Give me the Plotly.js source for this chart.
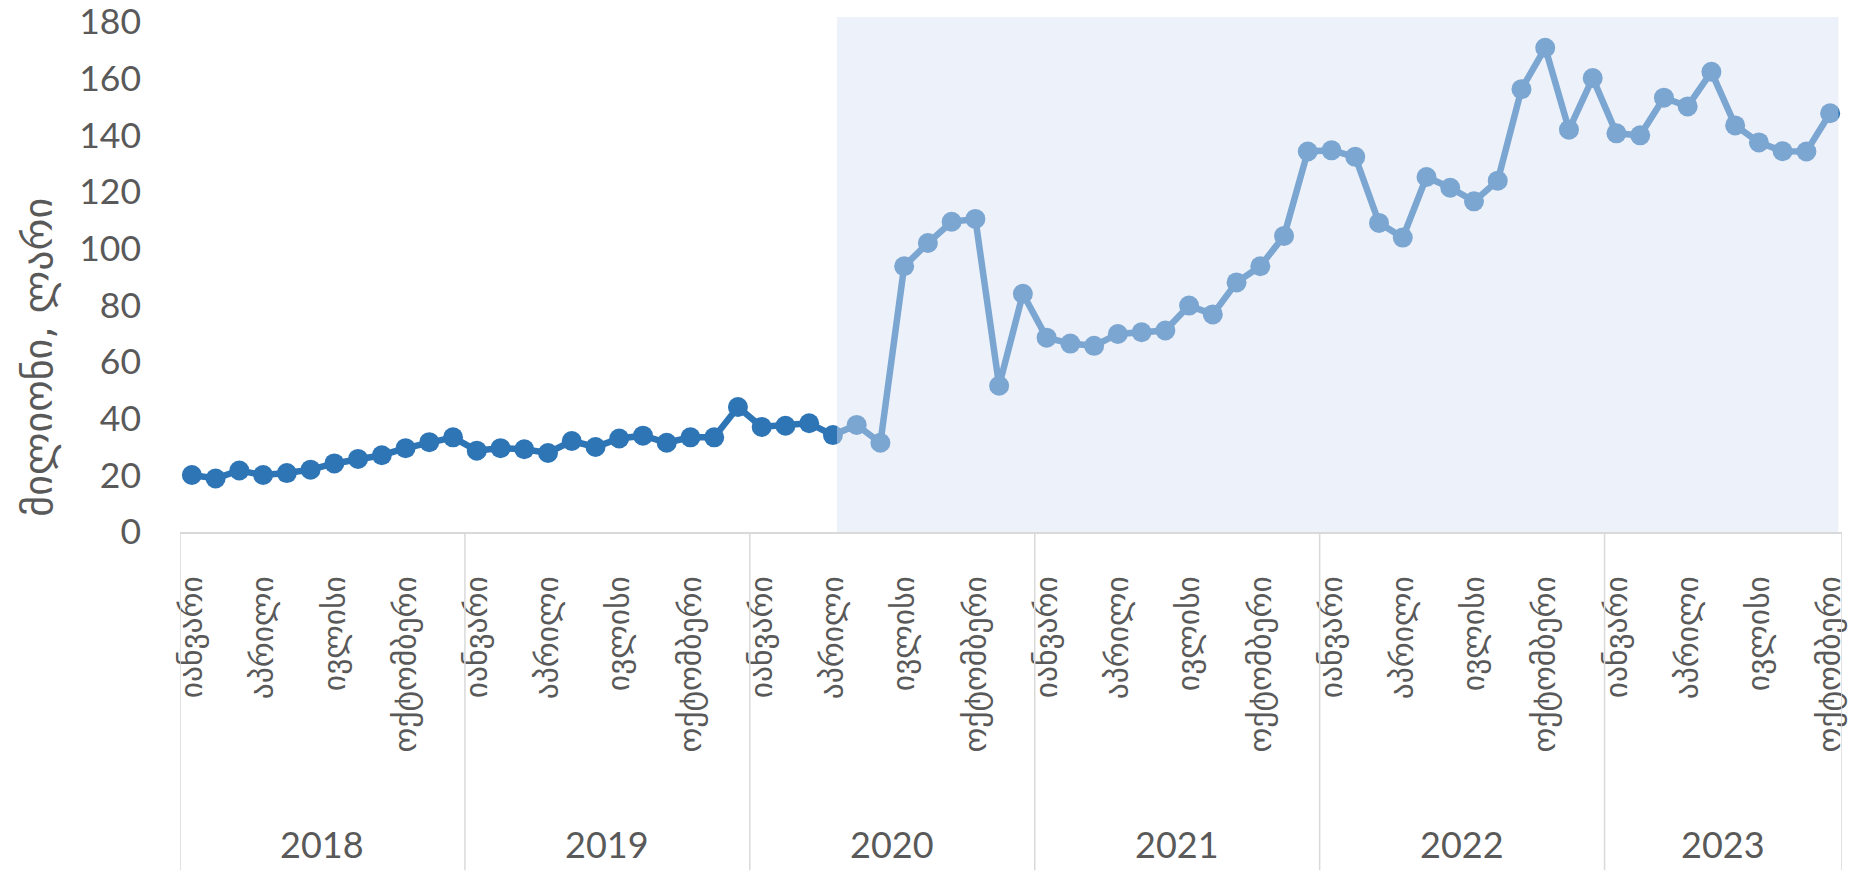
<!DOCTYPE html>
<html>
<head>
<meta charset="utf-8">
<script src="https://cdn.plot.ly/plotly-3.0.1.min.js"></script>
<style>html,body{margin:0;padding:0;background:#fff;}#chart{width:1858px;height:871px;}</style>
</head>
<body>
<div id="chart"></div>
<script>
// ---- data ----
const years = ["2018", "2019", "2020", "2021", "2022", "2023"];
const monthNames = ["იანვარი", "თებერვალი", "მარტი", "აპრილი", "მაისი", "ივნისი",
                    "ივლისი", "აგვისტო", "სექტემბერი", "ოქტომბერი", "ნოემბერი", "დეკემბერი"];
const v2018 = [20.1, 18.9, 21.7, 20.1, 20.8, 22.0, 24.2, 25.8, 27.1, 29.6, 31.7, 33.4];
const v2019 = [28.7, 29.6, 29.2, 27.9, 32.1, 30.0, 33.0, 34.0, 31.5, 33.4, 33.4, 44.1];
const v2020 = [37.1, 37.5, 38.4, 34.2, 37.8, 31.5, 93.8, 102.0, 109.5, 110.5, 51.6, 84.1];
const v2021 = [68.6, 66.5, 65.7, 69.9, 70.5, 71.1, 79.9, 76.8, 88.1, 93.8, 104.5, 134.3];
const v2022 = [134.7, 132.4, 109.1, 103.9, 125.3, 121.5, 116.7, 124.0, 156.3, 170.9, 142.0, 160.2];
const v2023 = [140.7, 140.0, 153.3, 150.2, 162.4, 143.5, 137.5, 134.4, 134.3, 147.8];
const yTickVals = [0, 20, 40, 60, 80, 100, 120, 140, 160, 180];
const yTitle = "მილიონი, ლარი";
const highlightStart = {year: "2020", month: "აპრილი"};

// ---- build ----
const series = [v2018, v2019, v2020, v2021, v2022, v2023];
const xs = [], ys = [], tickvals = [], ticktext = [];
const yearStart = [], yearLen = [];
let idx = 0;
series.forEach((arr, yi) => {
  yearStart.push(idx); yearLen.push(arr.length);
  arr.forEach((v, mi) => {
    xs.push(idx); ys.push(v);
    if (mi % 3 === 0) { tickvals.push(idx); ticktext.push(monthNames[mi]); }
    idx++;
  });
});
const nPts = idx;
const hiIdx = yearStart[years.indexOf(highlightStart.year)] + monthNames.indexOf(highlightStart.month);

const txtColor = "#595959";
const fontFam = "Lato, 'DejaVu Sans', sans-serif";
const geoFam = "'DejaVu Sans', sans-serif";
const gridC = "#D9D9D9";

const shapes = [];
// highlight overlay (semi-transparent, on top of the line)
shapes.push({type: "rect", xref: "x", yref: "paper", x0: hiIdx + 0.17, x1: nPts - 0.65,
  y0: 0, y1: 1.01, fillcolor: "rgba(215,224,242,0.46)", line: {width: 0}, layer: "above"});
// year separators
const bottomY = -339 / 511;
for (let i = 0; i <= years.length; i++) {
  const xb = (i < years.length ? yearStart[i] : nPts) - 0.5;
  shapes.push({type: "line", xref: "x", yref: "paper", x0: xb, x1: xb, y0: 0, y1: bottomY,
    line: {color: gridC, width: 1.5}});
}

const annotations = years.map((y, i) => ({
  xref: "x", yref: "paper", x: yearStart[i] + (yearLen[i] - 1) / 2, y: -0.611,
  text: y, showarrow: false, yanchor: "middle", xanchor: "center",
  font: {family: fontFam, size: 36, color: txtColor}
}));
annotations.push({xref: "paper", yref: "paper", x: -0.0854, y: 0.342, text: yTitle,
  textangle: -90, showarrow: false, xanchor: "center", yanchor: "middle",
  font: {family: geoFam, size: 40, color: txtColor}});

const trace = {
  x: xs, y: ys, type: "scatter", mode: "lines+markers",
  line: {color: "#2E75B6", width: 6.5},
  marker: {color: "#2E75B6", size: 20},
  hoverinfo: "y", cliponaxis: false
};

const layout = {
  width: 1858, height: 871,
  margin: {l: 180, r: 16, t: 22, b: 339},
  paper_bgcolor: "#fff", plot_bgcolor: "#fff",
  showlegend: false,
  xaxis: {
    range: [-0.5, nPts - 0.5], tickvals: tickvals, ticktext: ticktext, tickangle: -90,
    showgrid: false, zeroline: false, showline: true, linecolor: gridC, linewidth: 1.5,
    ticks: "", ticklabelstandoff: 30,
    tickfont: {family: geoFam, size: 31.5, color: txtColor}
  },
  yaxis: {
    range: [0, 180], tickvals: yTickVals, ticklabeloverflow: "allow",
    showgrid: false, zeroline: false, showline: false, ticks: "", ticklabelstandoff: 38,
    tickfont: {family: fontFam, size: 35.5, color: txtColor}
  },
  shapes: shapes, annotations: annotations
};

Plotly.newPlot("chart", [trace], layout, {displayModeBar: false, staticPlot: true});
</script>
</body>
</html>
